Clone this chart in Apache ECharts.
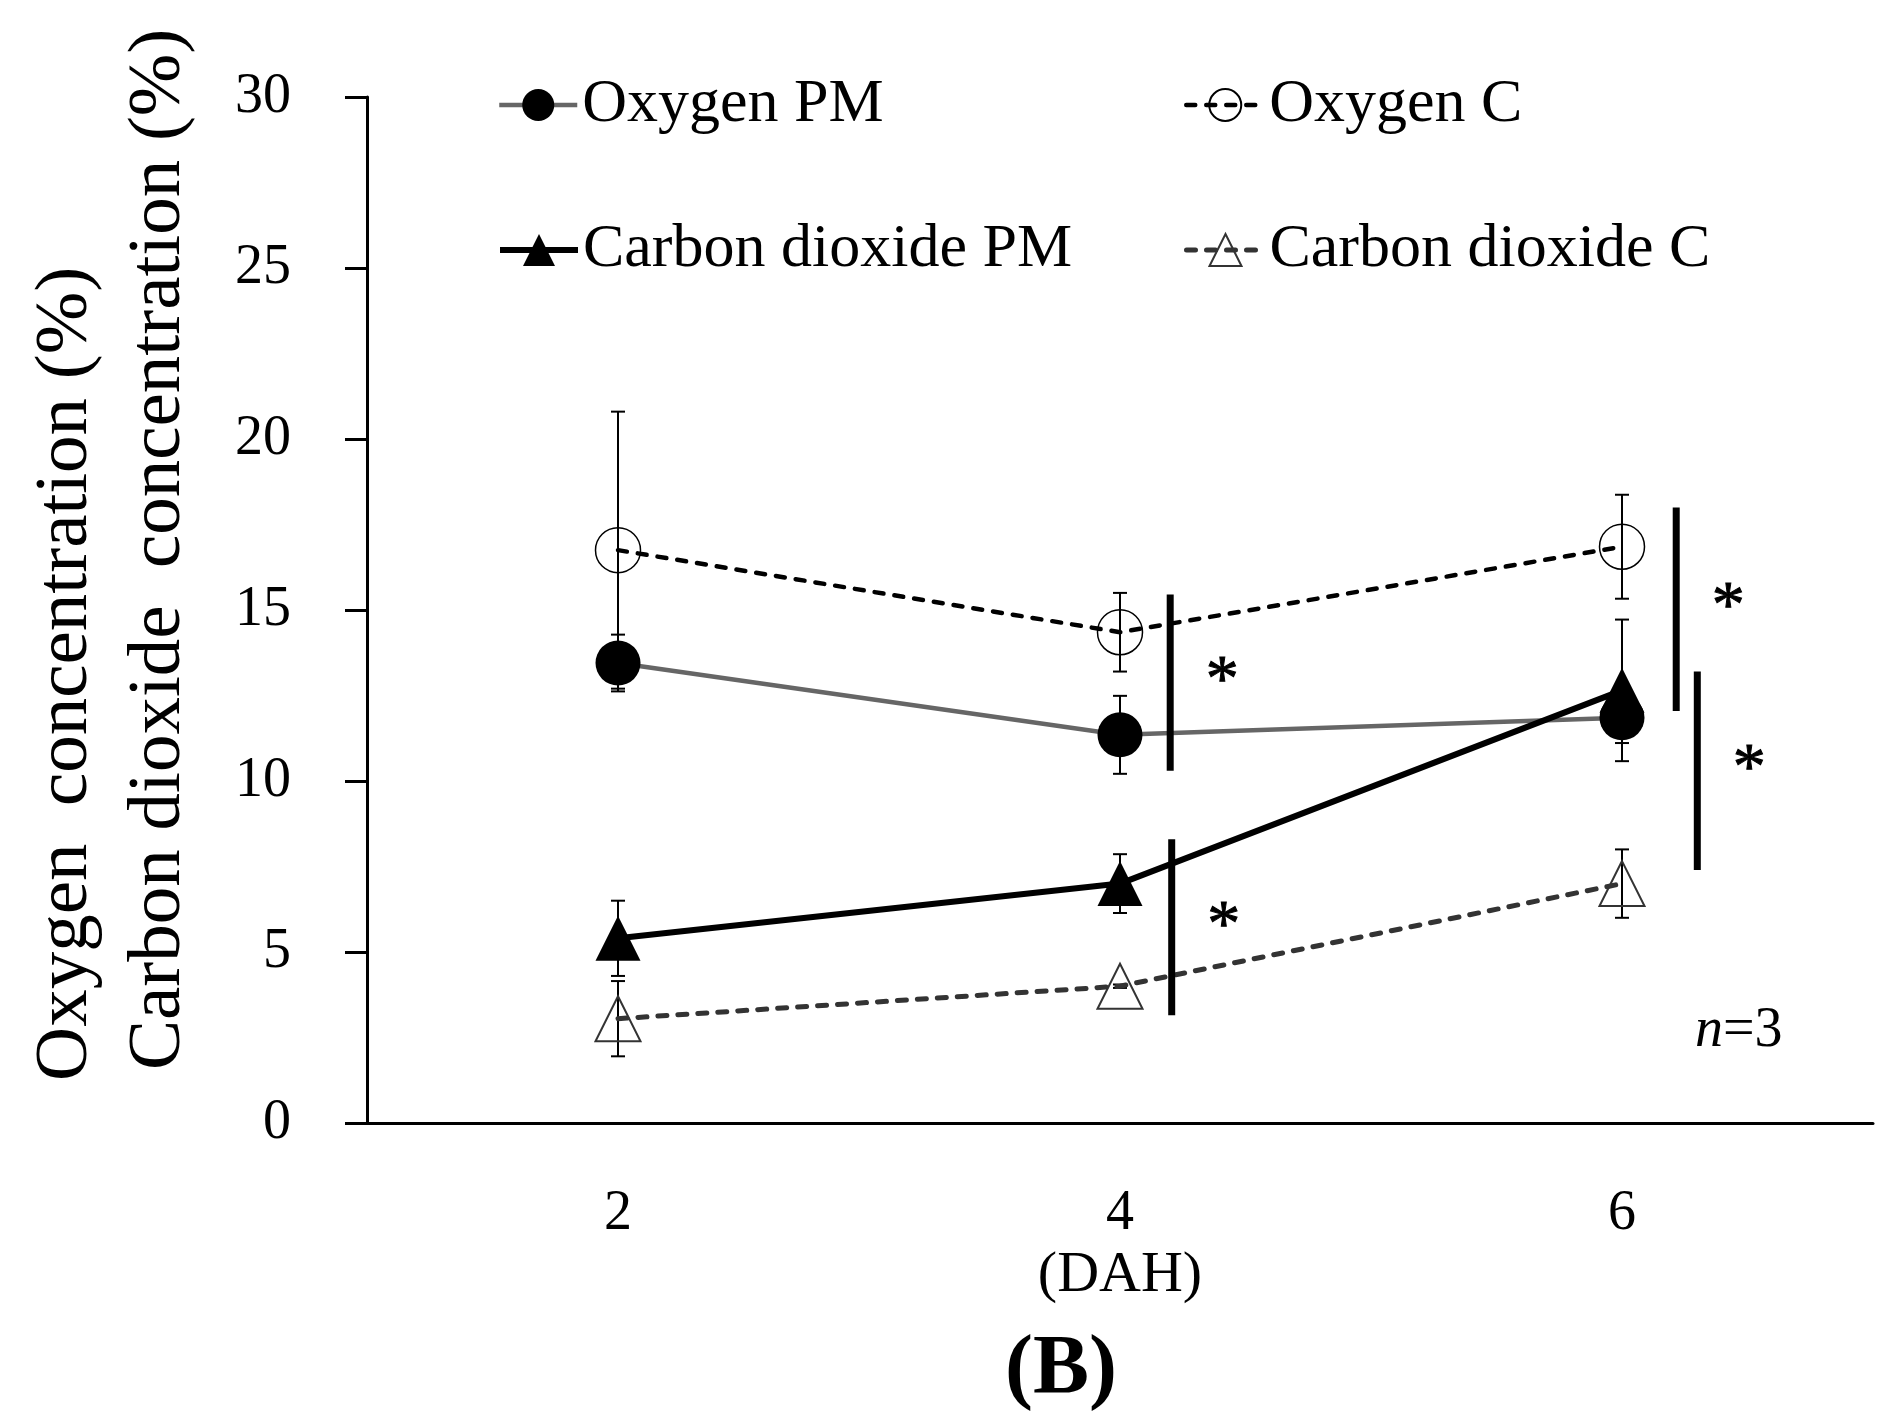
<!DOCTYPE html>
<html>
<head>
<meta charset="utf-8">
<style>
html, body { margin: 0; padding: 0; background: #fff; }
#chart { width: 1901px; height: 1421px; }
</style>
<script src="https://cdn.jsdelivr.net/npm/echarts@6/dist/echarts.min.js"></script>
</head>
<body>
<div id="chart"></div>
<script>
// days after harvest
var days = ['2', '4', '6'];

var oxygenPM = [13.45, 11.35, 11.85];
var oxygenPMErr = [0.83, 1.14, 0.74];
var oxygenC = [16.75, 14.35, 16.85];
var oxygenCErr = [4.05, 1.15, 1.52];
var co2PM = [5.4, 7.0, 12.65];
var co2PMErr = [1.1, 0.86, 2.07];
var co2C = [3.05, 4.0, 7.0];
var co2CErr = [1.1, 0.05, 1.0];

// significance bars (*): day, from, to
var sigDay = ['4', '4', '6', '6'];
var sigFrom = [10.3, 3.15, 12.05, 7.4];
var sigTo = [15.45, 8.3, 18.0, 13.2];

var FONT = '"Liberation Serif", "DejaVu Serif", serif';
// horizontal shift of each significance bar, as a share of the band
var SIG_SHIFT = [0.1, 0.103, 0.108, 0.15];

var lineO2PM = { color: '#666', width: 4.5 };
var lineO2C = { color: '#000', width: 4.5, type: [9, 11], cap: 'round' };
var lineCO2PM = { color: '#000', width: 6 };
var lineCO2C = { color: '#333', width: 5, type: [9, 11], cap: 'round' };

function errData(vals, errs) {
    return days.map(function(d, i) {
        return [i, vals[i] - errs[i], vals[i] + errs[i]];
    });
}

var errAll = [].concat(
    errData(oxygenC, oxygenCErr),
    errData(oxygenPM, oxygenPMErr),
    errData(co2PM, co2PMErr),
    errData(co2C, co2CErr)
);

function renderErr(params, api) {
    var x = api.value(0);
    var top = api.coord([x, api.value(2)]);
    var bot = api.coord([x, api.value(1)]);
    var st = { stroke: '#000', lineWidth: 2 };
    return {
        type: 'group',
        children: [
            { type: 'line', shape: { x1: top[0], y1: top[1], x2: bot[0], y2: bot[1] }, style: st },
            { type: 'line', shape: { x1: top[0] - 7, y1: top[1], x2: top[0] + 7, y2: top[1] }, style: st },
            { type: 'line', shape: { x1: bot[0] - 7, y1: bot[1], x2: bot[0] + 7, y2: bot[1] }, style: st }
        ]
    };
}

function renderSig(params, api) {
    var band = api.size([1, 0])[0];
    var x0 = api.value(0);
    var top = api.coord([x0, api.value(2)]);
    var bot = api.coord([x0, api.value(1)]);
    var x = top[0] + SIG_SHIFT[params.dataIndex] * band;
    return {
        type: 'group',
        children: [
            { type: 'line', shape: { x1: x, y1: top[1], x2: x, y2: bot[1] }, style: { stroke: '#000', lineWidth: 7 } },
            {
                type: 'text', x: x + 52, y: (top[1] + bot[1]) / 2,
                style: { text: '*', fontSize: 66, fontFamily: FONT, fill: '#000', stroke: '#000', lineWidth: 1, align: 'center', verticalAlign: 'middle' }
            }
        ]
    };
}

function legendAt(name, left, top, lineStyle) {
    return {
        data: [name],
        left: left,
        top: top,
        itemWidth: 78,
        itemHeight: 40,
        padding: 0,
        lineStyle: lineStyle,
        textStyle: { fontSize: 62, fontFamily: FONT, color: '#000' }
    };
}

var chart = echarts.init(document.getElementById('chart'));
chart.setOption({
    backgroundColor: '#fff',
    animation: false,
    textStyle: { fontFamily: FONT },
    grid: { left: 367, right: 28, top: 97, bottom: 298 },
    legend: [
        legendAt('Oxygen PM', 497, 74, lineO2PM),
        legendAt('Oxygen C', 1184, 74, lineO2C),
        legendAt('Carbon dioxide PM', 497, 219, lineCO2PM),
        legendAt('Carbon dioxide C', 1184, 219, lineCO2C)
    ],
    xAxis: {
        type: 'category',
        data: days,
        boundaryGap: true,
        name: '(DAH)',
        nameLocation: 'middle',
        nameGap: 110,
        nameTextStyle: { fontSize: 58, fontFamily: FONT, color: '#000' },
        axisLine: { lineStyle: { color: '#000', width: 3 } },
        axisTick: { show: false },
        axisLabel: { fontSize: 56, fontFamily: FONT, color: '#000', margin: 63 },
        splitLine: { show: false }
    },
    yAxis: {
        type: 'value',
        min: 0,
        max: 30,
        interval: 5,
        axisLine: { show: true, lineStyle: { color: '#000', width: 3 } },
        axisTick: { show: true, inside: false, length: 22, lineStyle: { color: '#000', width: 3 } },
        axisLabel: { fontSize: 56, fontFamily: FONT, color: '#000', margin: 76 },
        splitLine: { show: false }
    },
    graphic: [
        {
            type: 'text', x: 66, y: 1081, rotation: Math.PI / 2,
            style: { text: 'Oxygen  concentration (%)', fontSize: 75, fontFamily: FONT, fill: '#000', align: 'left', verticalAlign: 'middle' }
        },
        {
            type: 'text', x: 159, y: 1070, rotation: Math.PI / 2,
            style: { text: 'Carbon dioxide  concentration (%)', fontSize: 75, fontFamily: FONT, fill: '#000', align: 'left', verticalAlign: 'middle' }
        },
        {
            type: 'text', x: 1695, y: 1031,
            style: {
                text: '{i|n}=3',
                fontSize: 56, fontFamily: FONT, fill: '#000', align: 'left', verticalAlign: 'middle',
                rich: { i: { fontSize: 56, fontFamily: FONT, fontStyle: 'italic' } }
            }
        },
        {
            type: 'text', x: 1061, y: 1371,
            style: { text: '(B)', fontSize: 84, fontWeight: 'bold', fontFamily: FONT, fill: '#000', align: 'center', verticalAlign: 'middle' }
        }
    ],
    series: [
        {
            name: 'error bars',
            type: 'custom',
            renderItem: renderErr,
            data: errAll,
            z: 1,
            silent: true
        },
        {
            name: 'Oxygen PM',
            type: 'line',
            data: oxygenPM,
            symbol: 'circle',
            symbolSize: 45,
            z: 3,
            lineStyle: lineO2PM,
            itemStyle: { color: '#000' }
        },
        {
            name: 'Oxygen C',
            type: 'line',
            data: oxygenC,
            symbol: 'circle',
            symbolSize: 45,
            z: 3,
            lineStyle: lineO2C,
            itemStyle: { color: 'rgba(255,255,255,0)', borderColor: '#000', borderWidth: 1.5 }
        },
        {
            name: 'Carbon dioxide PM',
            type: 'line',
            data: co2PM,
            symbol: 'triangle',
            symbolSize: 45,
            z: 4,
            lineStyle: lineCO2PM,
            itemStyle: { color: '#000' }
        },
        {
            name: 'Carbon dioxide C',
            type: 'line',
            data: co2C,
            symbol: 'triangle',
            symbolSize: 45,
            z: 3,
            lineStyle: lineCO2C,
            itemStyle: { color: 'rgba(255,255,255,0)', borderColor: '#333', borderWidth: 2 }
        },
        {
            name: 'significance',
            type: 'custom',
            renderItem: renderSig,
            data: sigDay.map(function(d, i) { return [days.indexOf(d), sigFrom[i], sigTo[i]]; }),
            z: 5,
            silent: true
        }
    ]
});
</script>
</body>
</html>
